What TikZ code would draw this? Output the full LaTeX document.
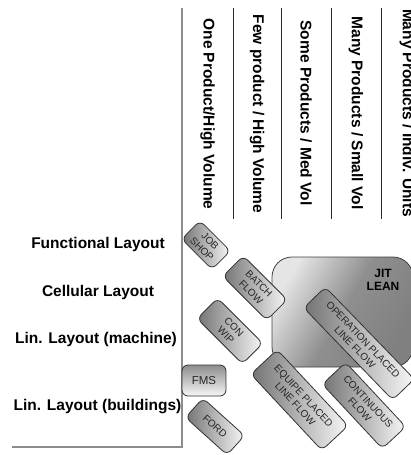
\documentclass[tikz,border=0pt]{standalone}
\usepackage{fontspec}
\setmainfont{Liberation Sans}
\begin{document}
\begin{tikzpicture}[x=1pt,y=-1pt,
  lbl/.style={font=\fontsize{15.5}{18}\selectfont\bfseries, text=black, inner sep=0pt},
  colhead/.style={lbl, rotate=-90},
  axisline/.style={draw=black!45, line width=1.3pt},
  sepline/.style={draw=black!85, line width=0.9pt},
  tagbase/.style={draw=black!80, line width=0.8pt, rounded corners=6pt,
    font=\fontsize{10}{11.5}\selectfont, text=black!85, align=center, inner sep=1pt},
  tag/.style={tagbase, left color=black!55, right color=black!3},
  jitbox/.style={draw=black!75, line width=0.8pt, rounded corners=20pt,
    top color=black!10, bottom color=black!50, middle color=black!44, shading angle=60},
  jittext/.style={font=\fontsize{12}{13.5}\selectfont\bfseries, text=black, align=center, inner sep=0pt}
]
\useasboundingbox (0,0) rectangle (411,455);

% axes
\coordinate (atop) at (182,8);
\coordinate (acorner) at (182,447);
\coordinate (aleft) at (12,447);
\draw[axisline] (atop) -- (acorner) -- (aleft);

% column separators
\foreach \x [count=\i] in {233,281,331,381} {
  \coordinate (st\i) at (\x,8);
  \coordinate (sb\i) at (\x,219);
  \draw[sepline] (st\i) -- (sb\i);
}

% column headers
\node[colhead] (c1) at (207.5,114) {One Product/High Volume};
\node[colhead] (c2) at (257,114) {Few product / High Volume};
\node[colhead] (c3) at (306,113) {Some Products / Med Vol};
\node[colhead] (c4) at (356,113) {Many Products / Small Vol};
\node[colhead] (c5) at (407,113) {Many Products / Indiv. Units};

% row labels
\node[lbl] (r1) at (98,244) {Functional Layout};
\node[lbl] (r2) at (98,292) {Cellular Layout};
\node[lbl] (r3) at (96,339) {Lin. Layout (machine)};
\node[lbl] (r4) at (97.5,407) {Lin. Layout (buildings)};

% JIT LEAN region
\node[jitbox, minimum width=141pt, minimum height=110pt] (jit) at (342.5,312) {};
\node[jittext] (jitlbl) at (383,280) {JIT\\LEAN};

% tags
\node[tag, rotate=-45, minimum width=43pt, minimum height=26pt] (job) at (206,245) {JOB\\SHOP};
\node[tag, rotate=-45, minimum width=62pt, minimum height=29pt] (batch) at (255,288) {BATCH\\FLOW};
\node[tag, rotate=-45, minimum width=64pt, minimum height=29pt] (conwip) at (230,331) {CON\\WIP};
\node[tagbase, top color=black!45, bottom color=black!3, minimum width=44pt, minimum height=31pt,
  font=\fontsize{11.5}{13}\selectfont] (fms) at (204,380.5) {FMS};
\node[tag, rotate=-42, minimum width=56pt, minimum height=26pt] (ford) at (215,426.5) {FORD};
\node[tag, rotate=-47, minimum width=104pt, minimum height=36pt] (equipe) at (299.5,400) {EQUIPE PLACED\\LINE FLOW};
\node[tag, rotate=-47, minimum width=88pt, minimum height=32pt] (cont) at (364,405.5) {CONTINUOUS\\FLOW};
\node[tag, rotate=-46, minimum width=128pt, minimum height=30pt] (oper) at (359,343.5) {OPERATION PLACED\\LINE FLOW};

\end{tikzpicture}
\end{document}
